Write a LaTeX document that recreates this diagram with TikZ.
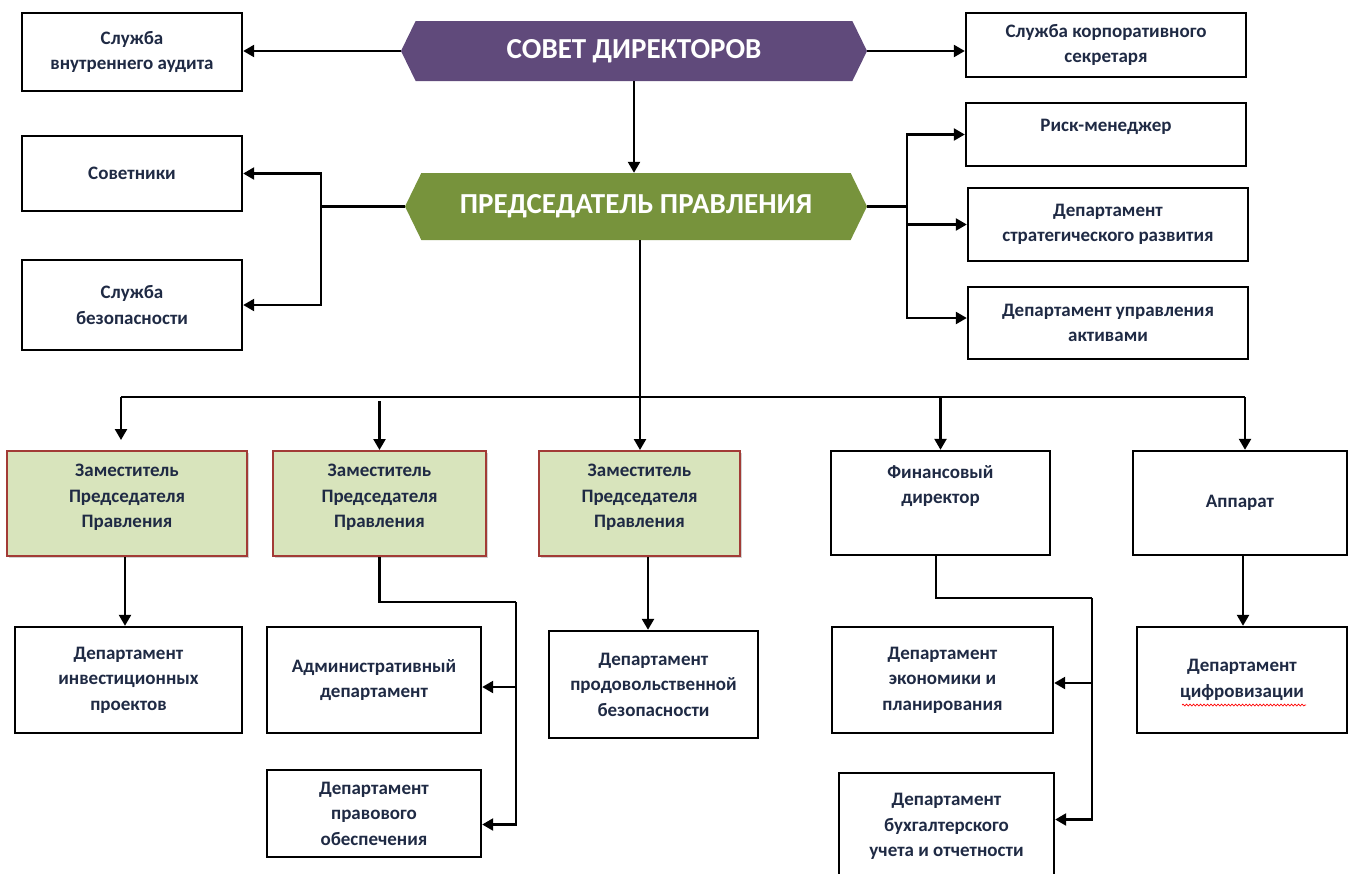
\documentclass[tikz,border=0pt]{standalone}
\usepackage{fontspec}
\setmainfont{Carlito}
\usetikzlibrary{arrows.meta,shapes.symbols,shadows,calc,decorations.pathmorphing}
\definecolor{sovetcol}{HTML}{604A7B}
\definecolor{predcol}{HTML}{77933C}
\definecolor{txtcol}{HTML}{1F2A44}
\definecolor{zamfill}{HTML}{D8E4BC}
\definecolor{zamdraw}{HTML}{A23B36}
\tikzset{
  box/.style={draw=black, line width=2.4pt, fill=white, align=center, text=txtcol, inner sep=0pt,
    font=\bfseries\fontsize{19}{25.5}\selectfont},
  zam/.style={box, draw=zamdraw, line width=2pt, fill=zamfill,
    drop shadow={opacity=0.35, shadow xshift=2pt, shadow yshift=-2pt}},
  txt/.style={align=center, text=txtcol, inner sep=0pt, font=\bfseries\fontsize{19}{25.5}\selectfont},
  hexa/.style={shape=signal, signal to=west and east, signal pointer angle=128, inner sep=0pt,
    text=white, font=\bfseries\fontsize{29}{32}\selectfont},
  arr/.style={line width=2.4pt, -{Triangle[length=11pt,width=12pt]}},
  ln/.style={line width=2.4pt}
}
\begin{document}
\begin{tikzpicture}[x=1pt, y=-1pt]
  \useasboundingbox (0,0) rectangle (1349,873);
  % top
  \node[hexa, fill=sovetcol, minimum width=466, minimum height=60] (sovet) at (634,51) {СОВЕТ ДИРЕКТОРОВ};
  \node[box, minimum width=220, minimum height=78] (audit) at (132,52) {Служба\\внутреннего аудита};
  \node[box, minimum width=280, minimum height=64] (secretary) at (1106,45) {Служба корпоративного\\секретаря};
  \node[hexa, fill=predcol, minimum width=462, minimum height=67] (pred) at (636,206.5) {ПРЕДСЕДАТЕЛЬ ПРАВЛЕНИЯ};
  \node[box, minimum width=220, minimum height=75] (sovetniki) at (132,173.5) {Советники};
  \node[box, minimum width=220, minimum height=90] (security) at (132,305) {Служба\\безопасности};
  \node[box, minimum width=280, minimum height=63] (risk) at (1106,134.5) {};
  \node[txt] at ([yshift=8pt]risk.center) {Риск-менеджер};
  \node[box, minimum width=280, minimum height=73] (strategy) at (1108,224.5) {Департамент\\стратегического развития};
  \node[box, minimum width=280, minimum height=72] (assets) at (1108,323) {Департамент управления\\активами};
  % middle row
  \node[zam, minimum width=240, minimum height=105] (zam1) at (127,503.5) {};
  \node[txt] at ([yshift=6pt]zam1.center) {Заместитель\\Председателя\\Правления};
  \node[zam, minimum width=213, minimum height=105] (zam2) at (379.5,503.5) {};
  \node[txt] at ([yshift=6pt]zam2.center) {Заместитель\\Председателя\\Правления};
  \node[zam, minimum width=201, minimum height=105] (zam3) at (639.5,503.5) {};
  \node[txt] at ([yshift=6pt]zam3.center) {Заместитель\\Председателя\\Правления};
  \node[box, minimum width=219, minimum height=104] (findir) at (940.5,503) {};
  \node[txt] at ([yshift=17pt]findir.center) {Финансовый\\директор};
  \node[box, minimum width=214, minimum height=104] (apparat) at (1240,503) {Аппарат};
  % bottom row
  \node[box, minimum width=227, minimum height=106] (invest) at (128.5,680) {Департамент\\инвестиционных\\проектов};
  \node[box, minimum width=214, minimum height=106] (admin) at (374,680) {Административный\\департамент};
  \node[box, minimum width=214, minimum height=87] (legal) at (374,813.5) {Департамент\\правового\\обеспечения};
  \node[box, minimum width=209, minimum height=107] (food) at (653.5,684.5) {Департамент\\продовольственной\\безопасности};
  \node[box, minimum width=221, minimum height=106] (econ) at (942.5,680) {Департамент\\экономики и\\планирования};
  \node[box, minimum width=215, minimum height=107] (account) at (946.5,826.5) {Департамент\\бухгалтерского\\учета и отчетности};
  \node[box, minimum width=210, minimum height=106] (digital) at (1242,680) {Департамент\\цифровизации};
  \draw[red, line width=0.7pt, decorate, decoration={snake, amplitude=0.9pt, segment length=3.5pt}]
    ([xshift=-60pt,yshift=-25pt]digital.center) -- ([xshift=64pt,yshift=-25pt]digital.center);

  \draw[arr] (sovet.west) -- (sovet.west -| audit.east);
  \draw[arr] (sovet.east) -- (sovet.east -| secretary.west);
  \draw[arr] (sovet.south) -- (sovet.south |- pred.north);

  \coordinate (lj) at (321,206.5);
  \draw[ln] (pred.west) -- (lj);
  \draw[arr] (lj) |- (sovetniki.east);
  \draw[arr] (lj) |- (security.east);
  \coordinate (rj) at (907,206.5);
  \draw[ln] (pred.east) -- (rj);
  \draw[arr] (rj) |- (risk.west);
  \draw[arr] (rj) |- (strategy.west);
  \draw[arr] (rj) |- ([yshift=5pt]assets.west);

  \coordinate (bus) at (640,397);
  \draw[ln] (pred.south -| bus) -- (bus);
  \draw[ln] (121,397) -- (1245,397);
  \draw[arr] (bus -| 121,0) -- ([yshift=10pt]zam1.north -| 121,0);
  \draw[arr] ([yshift=-4pt]bus -| zam2.north) -- (zam2.north);
  \draw[arr] (bus) -- (bus |- zam3.north);
  \draw[arr] (bus -| findir.north) -- (findir.north);
  \draw[arr] (bus -| 1245,0) -- (apparat.north -| 1245,0);

  \draw[arr] (zam1.south -| 125,0) -- (invest.north -| 125,0);
  \coordinate (aj) at (516,602);
  \draw[ln] (zam2.south) |- (aj);
  \draw[arr] (aj) |- ([yshift=-7pt]admin.east);
  \draw[arr] (aj) |- ([yshift=-11pt]legal.east);
  \draw[arr] (zam3.south -| 648,0) -- (food.north -| 648,0);
  \coordinate (fj) at (1092,598);
  \draw[ln] (findir.south -| 936,0) |- (fj);
  \draw[arr] (fj) |- ([yshift=-3pt]econ.east);
  \draw[arr] (fj) |- ([yshift=7pt]account.east);
  \draw[arr] (apparat.south -| 1243,0) -- (digital.north -| 1243,0);
\end{tikzpicture}
\end{document}
